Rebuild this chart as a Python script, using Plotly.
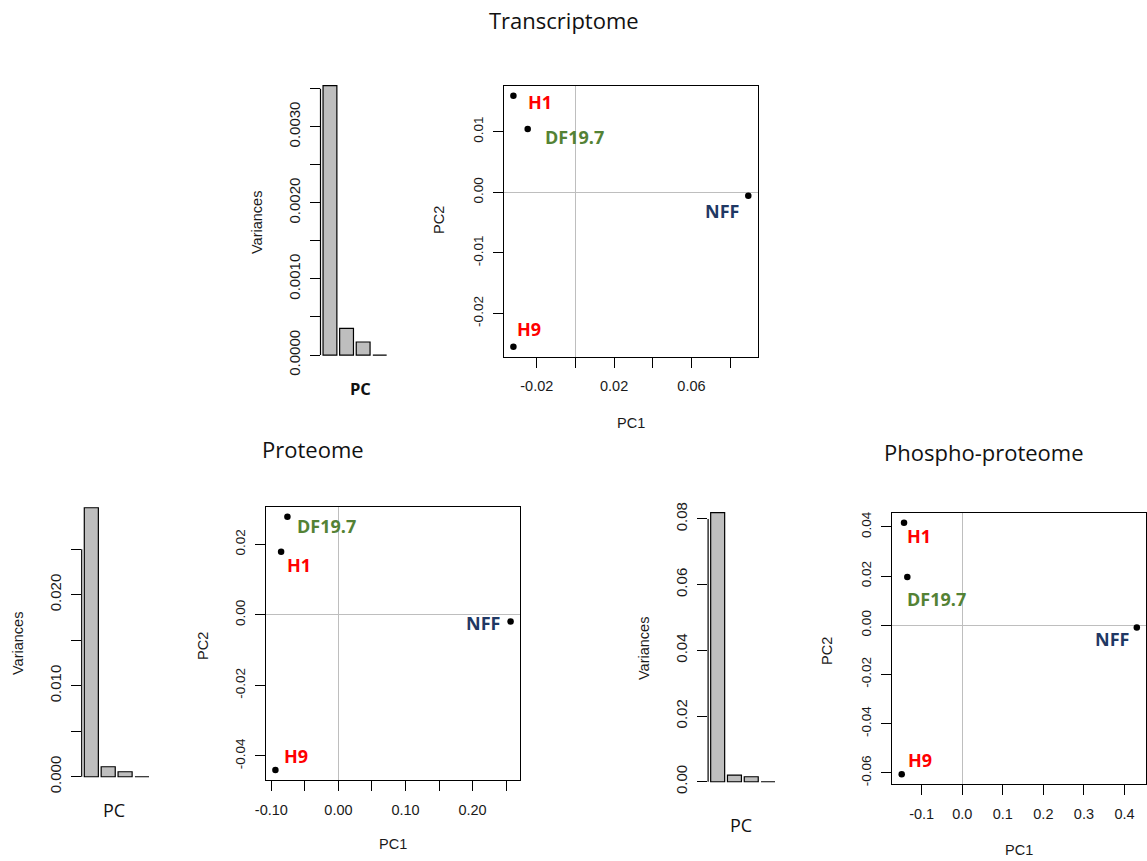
import plotly.graph_objects as go

W, H = 1147, 861

# ---------------- data ----------------
pc_names = ["PC1", "PC2", "PC3", "PC4"]
samples = ["H1", "DF19.7", "NFF", "H9"]
sample_colors = ["#FF0000", "#548235", "#1F3864", "#FF0000"]

trans_var = [0.00354, 0.000351, 0.000171, 0.0]
prot_var = [0.02956, 0.00110, 0.00055, 0.0]
phos_var = [0.0819, 0.00204, 0.00152, 0.0]

trans_pc1 = [-0.0321, -0.0247, 0.0894, -0.0321]
trans_pc2 = [0.01593, 0.01044, -0.00059, -0.02547]
prot_pc1 = [-0.0855, -0.0761, 0.2567, -0.0940]
prot_pc2 = [0.01789, 0.0278, -0.00191, -0.0440]
phos_pc1 = [-0.1436, -0.1355, 0.4303, -0.1493]
phos_pc2 = [0.0417, 0.0196, -0.00095, -0.0606]

trans_var_ticks = [0.0, 0.0005, 0.0010, 0.0015, 0.0020, 0.0025, 0.0030, 0.0035]
trans_var_text = ["0.0000", "", "0.0010", "", "0.0020", "", "0.0030", ""]
prot_var_ticks = [0.0, 0.005, 0.010, 0.015, 0.020, 0.025]
prot_var_text = ["0.000", "", "0.010", "", "0.020", ""]
phos_var_ticks = [0.0, 0.02, 0.04, 0.06, 0.08]
phos_var_text = ["0.00", "0.02", "0.04", "0.06", "0.08"]

trans_x_ticks = [-0.02, 0.0, 0.02, 0.04, 0.06, 0.08]
trans_x_text = ["-0.02", "", "0.02", "", "0.06", ""]
trans_y_ticks = [-0.02, -0.01, 0.0, 0.01]
trans_y_text = ["-0.02", "-0.01", "0.00", "0.01"]
prot_x_ticks = [-0.10, -0.05, 0.0, 0.05, 0.10, 0.15, 0.20, 0.25]
prot_x_text = ["-0.10", "", "0.00", "", "0.10", "", "0.20", ""]
prot_y_ticks = [-0.04, -0.02, 0.0, 0.02]
prot_y_text = ["-0.04", "-0.02", "0.00", "0.02"]
phos_x_ticks = [-0.1, 0.0, 0.1, 0.2, 0.3, 0.4]
phos_x_text = ["-0.1", "0.0", "0.1", "0.2", "0.3", "0.4"]
phos_y_ticks = [-0.06, -0.04, -0.02, 0.0, 0.02, 0.04]
phos_y_text = ["-0.06", "-0.04", "-0.02", "0.00", "0.02", "0.04"]

# ---------------- layout helpers ----------------
def rrange(vals):
    lo, hi = min(vals), max(vals)
    d = (hi - lo) * 0.04
    return [lo - d, hi + d]

def dom_x(a, b):
    return [a / W, b / W]

def dom_y(top, bottom):
    return [1 - bottom / H, 1 - top / H]

XTICKFONT = dict(family="Liberation Sans, Arial", size=14.5, color="#1a1a1a")
YTICKFONT = dict(family="Liberation Sans, Arial", size=13.5, color="#1a1a1a")
BARTICKFONT = dict(family="Liberation Sans, Arial", size=15, color="#1a1a1a")
LABELFONT = dict(family="Liberation Sans, Arial", size=14.5, color="#1a1a1a")

bar_centers = [0.7 + 1.2 * i for i in range(len(pc_names))]
bar_xrange = rrange([0.2, 0.2 + 1.2 * (len(pc_names) - 1) + 1.0])

panels = [
    dict(var=trans_var, vt=trans_var_ticks, vtt=trans_var_text,
         bx=(320.5, 389.2), by=(74.9, 365.8),
         pc1=trans_pc1, pc2=trans_pc2,
         xt=trans_x_ticks, xtt=trans_x_text, yt=trans_y_ticks, ytt=trans_y_text,
         sx=(504, 757.7), sy=(85.7, 356.7)),
    dict(var=prot_var, vt=prot_var_ticks, vtt=prot_var_text,
         bx=(81.7, 151.6), by=(497, 787.5),
         pc1=prot_pc1, pc2=prot_pc2,
         xt=prot_x_ticks, xtt=prot_x_text, yt=prot_y_ticks, ytt=prot_y_text,
         sx=(266, 520), sy=(506.7, 780)),
    dict(var=phos_var, vt=phos_var_ticks, vtt=phos_var_text,
         bx=(708.1, 777.6), by=(501.9, 792.5),
         pc1=phos_pc1, pc2=phos_pc2,
         xt=phos_x_ticks, xtt=phos_x_text, yt=phos_y_ticks, ytt=phos_y_text,
         sx=(892.3, 1146.2), sy=(512.7, 784.3)),
]

# label placement per panel: (xanchor, xshift, yshift) per sample
label_place = [
    [("left", 13, -6), ("left", 15, -8), ("right", -7, -15), ("left", 2, 18)],
    [("left", 4, -13), ("left", 8, -9), ("right", -9, -1), ("left", 7, 14)],
    [("left", 1, -13), ("left", -2, -22), ("right", -6, -11), ("left", 4, 14)],
]

fig = go.Figure()
layout = dict(
    width=W, height=H, margin=dict(l=0, r=0, t=0, b=0, pad=0, autoexpand=False),
    paper_bgcolor="white", plot_bgcolor="white", showlegend=False,
)
shapes = []
annotations = []

for i, p in enumerate(panels):
    bi = 2 * i + 1
    si = 2 * i + 2
    bxn = "x" if bi == 1 else f"x{bi}"
    byn = "y" if bi == 1 else f"y{bi}"
    sxn, syn = f"x{si}", f"y{si}"

    fig.add_trace(go.Bar(
        x=bar_centers, y=p["var"], width=1.0, xaxis=bxn, yaxis=byn,
        marker=dict(color="#BEBEBE", line=dict(color="#000000", width=1.2)),
        hoverinfo="skip",
    ))
    layout["xaxis" if bi == 1 else f"xaxis{bi}"] = dict(
        domain=dom_x(*p["bx"]), range=bar_xrange, anchor=byn, automargin=False,
        showgrid=False, zeroline=False, showticklabels=False, showline=False, ticks="",
    )
    layout["yaxis" if bi == 1 else f"yaxis{bi}"] = dict(
        domain=dom_y(*p["by"]), range=rrange([0] + p["var"]), anchor=bxn, automargin=False,
        showgrid=False, zeroline=False, showline=False,
        tickmode="array", tickvals=p["vt"], ticktext=p["vtt"],
        ticks="outside", ticklen=10, tickwidth=1.2, tickcolor="#000",
        tickangle=-90, tickfont=BARTICKFONT, ticklabelstandoff=4,
    )
    shapes.append(dict(type="line", xref=f"{bxn} domain", yref=byn,
                       x0=0, x1=0, y0=p["vt"][0], y1=p["vt"][-1],
                       line=dict(color="#000", width=1.2)))

    fig.add_trace(go.Scatter(
        x=p["pc1"], y=p["pc2"], mode="markers", xaxis=sxn, yaxis=syn,
        marker=dict(color="#000", size=6.5), hoverinfo="skip",
    ))
    layout[f"xaxis{si}"] = dict(
        domain=dom_x(*p["sx"]), range=rrange(p["pc1"]), anchor=syn, automargin=False,
        showgrid=False, zeroline=True, zerolinecolor="#BEBEBE", zerolinewidth=1.3,
        showline=True, mirror=True, linecolor="#000", linewidth=1.2,
        tickmode="array", tickvals=p["xt"], ticktext=p["xtt"],
        ticks="outside", ticklen=10, tickwidth=1.2, tickcolor="#000",
        tickfont=XTICKFONT, ticklabelstandoff=6,
    )
    layout[f"yaxis{si}"] = dict(
        domain=dom_y(*p["sy"]), range=rrange(p["pc2"]), anchor=sxn, automargin=False,
        showgrid=False, zeroline=True, zerolinecolor="#BEBEBE", zerolinewidth=1.3,
        showline=True, mirror=True, linecolor="#000", linewidth=1.2,
        tickmode="array", tickvals=p["yt"], ticktext=p["ytt"],
        ticks="outside", ticklen=10, tickwidth=1.2, tickcolor="#000",
        tickangle=-90, tickfont=YTICKFONT, ticklabelstandoff=5,
    )
    for j, s in enumerate(samples):
        xa, xs, ys = label_place[i][j]
        annotations.append(dict(
            x=p["pc1"][j], y=p["pc2"][j], xref=sxn, yref=syn, text=f"<b>{s}</b>",
            showarrow=False, xanchor=xa, yanchor="middle", xshift=xs, yshift=ys,
            font=dict(family="Open Sans", size=18, color=sample_colors[j]),
        ))

def ann(text, px, py, font, angle=0):
    annotations.append(dict(
        x=px / W, y=1 - py / H, xref="paper", yref="paper", text=text,
        showarrow=False, xanchor="center", yanchor="middle", textangle=angle, font=font,
    ))

TITLEFONT = dict(family="Open Sans", size=22, color="#111")
ann("Transcriptome", 563.5, 20, TITLEFONT)
ann("Proteome", 312.5, 449, TITLEFONT)
ann("Phospho-proteome", 983.5, 452, TITLEFONT)

ann("<b>PC</b>", 360, 388, dict(family="Open Sans", size=16.5, color="#111"))
ann("PC", 114, 810, dict(family="Open Sans", size=18, color="#111"))
ann("PC", 741, 825, dict(family="Open Sans", size=18, color="#111"))

ann("Variances", 256.5, 222.5, LABELFONT, -90)
ann("Variances", 18, 644, LABELFONT, -90)
ann("Variances", 644, 649, LABELFONT, -90)

ann("PC1", 631, 423, LABELFONT)
ann("PC2", 439, 220, LABELFONT, -90)
ann("PC1", 393, 844, LABELFONT)
ann("PC2", 203, 646, LABELFONT, -90)
ann("PC1", 1019, 850, LABELFONT)
ann("PC2", 827, 651, LABELFONT, -90)

layout["shapes"] = shapes
layout["annotations"] = annotations
fig.update_layout(**layout)
fig.write_html("out.html")
